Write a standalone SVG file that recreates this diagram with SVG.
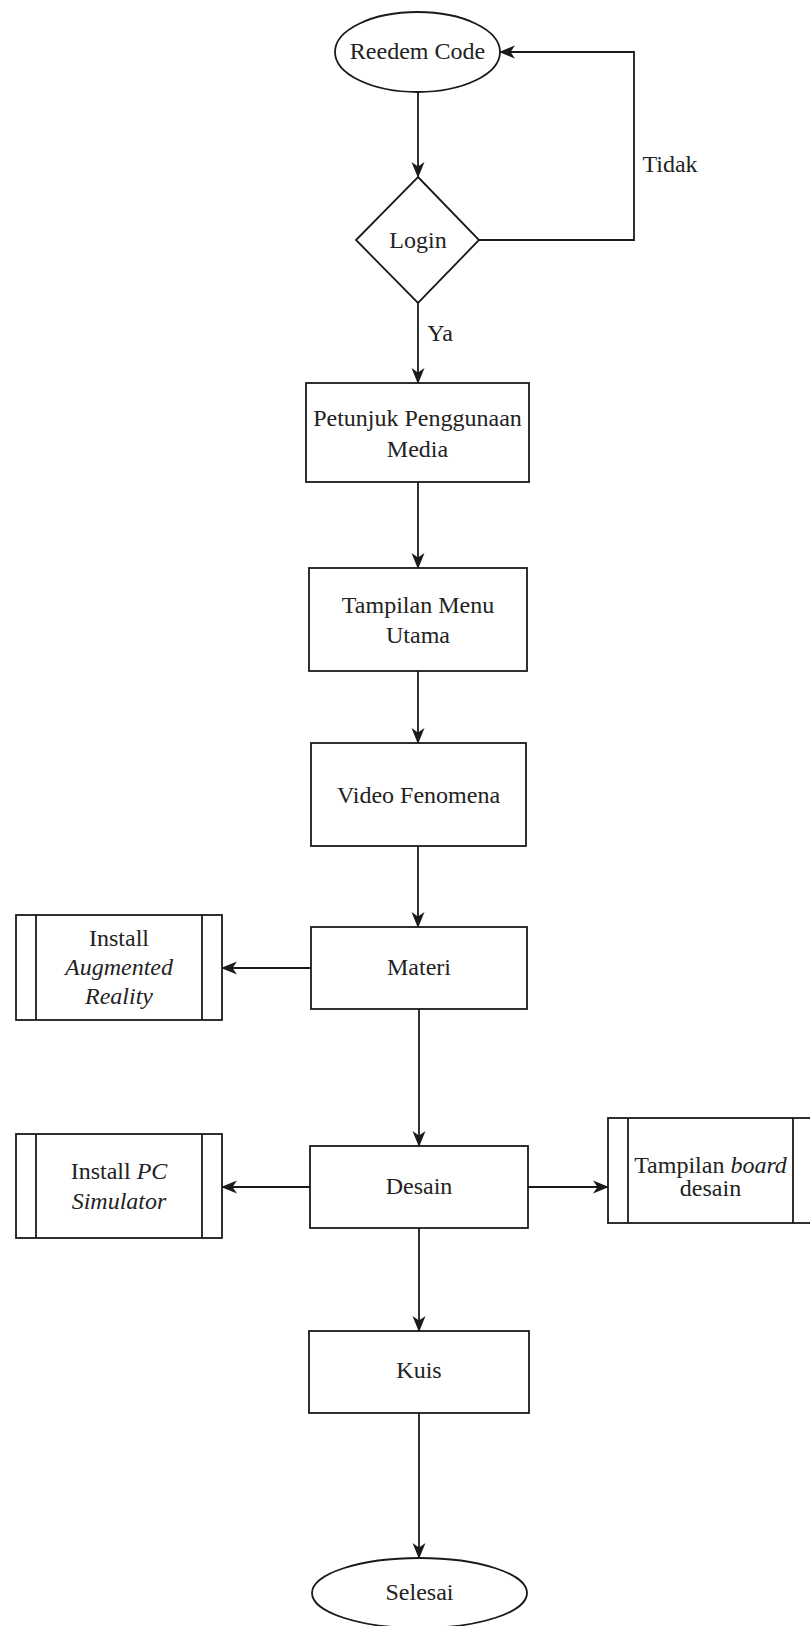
<svg xmlns="http://www.w3.org/2000/svg" width="810" height="1626" viewBox="0 0 810 1626" font-family="'Liberation Serif', 'Times New Roman', Times, serif">
<defs>
<style>
.s{fill:#fff;stroke:#1a1a1a;stroke-width:1.8}
.l{fill:none;stroke:#1a1a1a;stroke-width:1.8}
.c{fill:none;stroke:#1a1a1a;stroke-width:1.8;marker-end:url(#ah)}
text{font-family:'Liberation Serif','Times New Roman',Times,serif;font-size:24px;fill:#222;text-anchor:middle;dominant-baseline:central}
.i{font-style:italic}
</style>
<marker id="ah" markerUnits="userSpaceOnUse" markerWidth="16" markerHeight="16" viewBox="0 0 16 16" refX="15" refY="8" orient="auto">
<path d="M0,1.5 L16,8 L0,14.5 L4.5,8 z" fill="#1a1a1a"/>
</marker>
</defs>
<rect width="810" height="1626" fill="#fff"/>
<g id="connectors">
<line class="c" x1="418" y1="92" x2="418" y2="177"/>
<polyline class="c" points="479,240 634,240 634,52 500,52"/>
<line class="c" x1="418" y1="303" x2="418" y2="383"/>
<line class="c" x1="418" y1="482" x2="418" y2="568"/>
<line class="c" x1="418" y1="671" x2="418" y2="743"/>
<line class="c" x1="418" y1="846" x2="418" y2="927"/>
<line class="c" x1="311" y1="968" x2="222" y2="968"/>
<line class="c" x1="419" y1="1009" x2="419" y2="1146"/>
<line class="c" x1="310" y1="1187" x2="222" y2="1187"/>
<line class="c" x1="528" y1="1187" x2="608" y2="1187"/>
<line class="c" x1="419" y1="1228" x2="419" y2="1331"/>
<line class="c" x1="419" y1="1413" x2="419" y2="1558"/>
<text x="670" y="164">Tidak</text>
<text x="440" y="333">Ya</text>
</g>
<g id="reedem">
<ellipse class="s" cx="417.5" cy="52" rx="82.5" ry="40"/>
<text x="417.5" y="51">Reedem Code</text>
</g>
<g id="login">
<polygon class="s" points="418,177 479,240 418,303 356,240"/>
<text x="418" y="240">Login</text>
</g>
<g id="petunjuk">
<rect class="s" x="306" y="383" width="223" height="99"/>
<text x="417.5" y="418">Petunjuk Penggunaan</text>
<text x="417.5" y="449">Media</text>
</g>
<g id="menu">
<rect class="s" x="309" y="568" width="218" height="103"/>
<text x="418" y="605">Tampilan Menu</text>
<text x="418" y="635">Utama</text>
</g>
<g id="video">
<rect class="s" x="311" y="743" width="215" height="103"/>
<text x="418.5" y="795">Video Fenomena</text>
</g>
<g id="materi">
<rect class="s" x="311" y="927" width="216" height="82"/>
<text x="419" y="967">Materi</text>
</g>
<g id="installAR">
<rect class="s" x="16" y="915" width="206" height="105"/>
<line class="l" x1="36" y1="915" x2="36" y2="1020"/>
<line class="l" x1="202" y1="915" x2="202" y2="1020"/>
<text x="119" y="938">Install</text>
<text x="119" y="967" class="i">Augmented</text>
<text x="119" y="996" class="i">Reality</text>
</g>
<g id="desain">
<rect class="s" x="310" y="1146" width="218" height="82"/>
<text x="419" y="1186">Desain</text>
</g>
<g id="installPC">
<rect class="s" x="16" y="1134" width="206" height="104"/>
<line class="l" x1="36" y1="1134" x2="36" y2="1238"/>
<line class="l" x1="202" y1="1134" x2="202" y2="1238"/>
<text x="119" y="1171">Install <tspan class="i">PC</tspan></text>
<text x="119" y="1201" class="i">Simulator</text>
</g>
<g id="board">
<rect class="s" x="608" y="1118" width="205" height="105"/>
<line class="l" x1="628" y1="1118" x2="628" y2="1223"/>
<line class="l" x1="793" y1="1118" x2="793" y2="1223"/>
<text x="710.5" y="1165">Tampilan <tspan class="i">board</tspan></text>
<text x="710.5" y="1188">desain</text>
</g>
<g id="kuis">
<rect class="s" x="309" y="1331" width="220" height="82"/>
<text x="419" y="1370">Kuis</text>
</g>
<g id="selesai">
<ellipse class="s" cx="419.5" cy="1593" rx="107.5" ry="35"/>
<text x="419.5" y="1592">Selesai</text>
</g>
</svg>
